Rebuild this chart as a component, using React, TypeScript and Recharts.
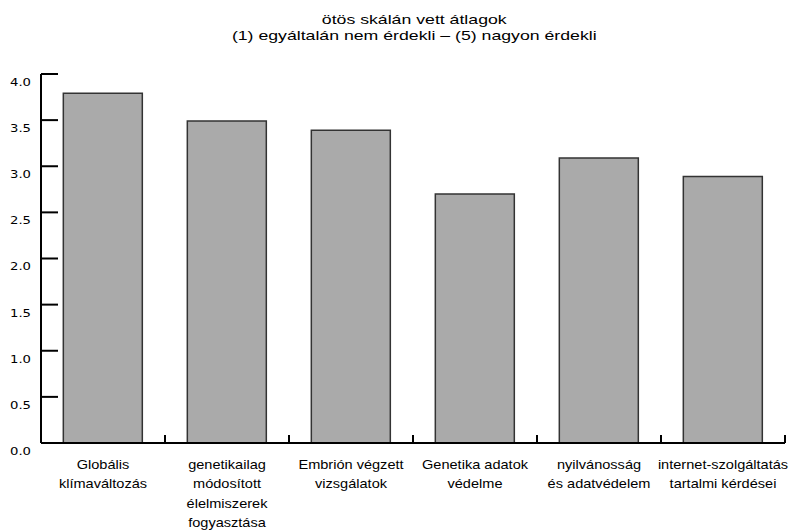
// Ötös skálán vett átlagok – oszlopdiagram
import { BarChart, Bar, XAxis, YAxis } from 'recharts';

const TITLE_LINES = ['ötös skálán vett átlagok', '(1) egyáltalán nem érdekli – (5) nagyon érdekli'];

const CATEGORIES = [
  'Globális\nklímaváltozás',
  'genetikailag\nmódosított\nélelmiszerek\nfogyasztása',
  'Embrión végzett\nvizsgálatok',
  'Genetika adatok\nvédelme',
  'nyilvánosság\nés adatvédelem',
  'internet-szolgáltatás\ntartalmi kérdései',
];

const MEANS = [3.79, 3.49, 3.39, 2.7, 3.09, 2.89];

const Y_TICKS = [0, 0.5, 1, 1.5, 2, 2.5, 3, 3.5, 4];

const data = CATEGORIES.map((name, i) => ({ name, value: MEANS[i] }));

const FONT = '"Liberation Sans", Arial, sans-serif';

// felirat + rövid felfelé álló jel a kategória jobb határán
// (az eredeti kép vízszintesen kissé nyújtott szöveget mutat)
function CategoryTick({ x, y, payload, width, visibleTicksCount }: any) {
  const lines = String(payload.value).split('\n');
  const band = width / (visibleTicksCount || 1);
  const edge = x + band / 2;
  return (
    <g>
      <line x1={edge} x2={edge} y1={y} y2={y - 8} stroke="#000" strokeWidth={2} />
      <g transform={`translate(${x},${y}) scale(1.12,1)`}>
        <text x={0} y={0} textAnchor="middle" fontFamily={FONT} fontSize={13} fill="#000">
          {lines.map((line, i) => (
            <tspan key={i} x={0} dy={i === 0 ? 26 : 19.5}>
              {line}
            </tspan>
          ))}
        </text>
      </g>
    </g>
  );
}

function ValueTick({ x, y, payload }: any) {
  return (
    <g transform={`translate(${x},${y}) scale(1.2,1)`}>
      <text x={0} y={0} dy={12} textAnchor="end" fontFamily='"DejaVu Sans", Verdana, sans-serif' fontSize={11} fill="#000">
        {Number(payload.value).toFixed(1)}
      </text>
    </g>
  );
}

export default function App() {
  return (
    <div style={{ position: 'relative', width: 799, height: 532, background: '#fff' }}>
      <style>{'body{margin:0}'}</style>
      <div
        style={{
          position: 'absolute',
          top: 12,
          left: 41,
          width: 744,
          textAlign: 'center',
          fontFamily: FONT,
          fontSize: 13.5,
          lineHeight: '16px',
          color: '#000',
          transform: 'scaleX(1.31)',
          transformOrigin: '368px 0',
        }}
      >
        {TITLE_LINES.map((t) => (
          <div key={t}>{t}</div>
        ))}
      </div>
      <BarChart
        width={799}
        height={532}
        data={data}
        margin={{ top: 74, right: 14, left: 11, bottom: 59 }}
        barCategoryGap="18%"
      >
        <XAxis
          dataKey="name"
          interval={0}
          tickLine={false}
          tickSize={0}
          tickMargin={0}
          axisLine={{ stroke: '#000', strokeWidth: 2 }}
          tick={<CategoryTick />}
          height={30}
        />
        <YAxis
          type="number"
          domain={[0, 4]}
          ticks={Y_TICKS}
          interval={0}
          width={30}
          tickSize={-17}
          tickMargin={27}
          axisLine={{ stroke: '#000', strokeWidth: 2 }}
          tickLine={{ stroke: '#000', strokeWidth: 2 }}
          tick={<ValueTick />}
        />
        <Bar dataKey="value" fill="#aaaaaa" stroke="#333" strokeWidth={1.5} isAnimationActive={false} />
      </BarChart>
    </div>
  );
}
